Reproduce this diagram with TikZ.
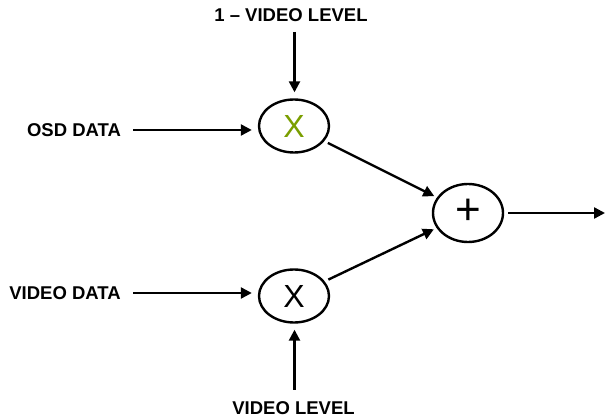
\documentclass[tikz,border=0pt]{standalone}
\usepackage{fontspec}
\setmainfont{Liberation Sans}
\usetikzlibrary{shapes.geometric,arrows.meta}
\definecolor{xgreen}{RGB}{122,158,0}
\begin{document}
\begin{tikzpicture}[x=1pt,y=-1pt,
  lab/.style={font=\fontsize{18.5}{20}\selectfont\bfseries, inner sep=0pt},
  op/.style={ellipse, draw, line width=2.4pt, minimum width=70pt, minimum height=53pt, inner sep=0pt},
  arr/.style={line width=2.4pt, -{Triangle[length=11pt,width=11pt]}},
  ]
\useasboundingbox (0,0) rectangle (605,419);
% labels
\node[lab] (top) at (291,15) {1 -- VIDEO LEVEL};
\node[lab] (osd) at (74,130) {OSD DATA};
\node[lab] (vid) at (65,293) {VIDEO DATA};
\node[lab] (bot) at (293.5,408) {VIDEO LEVEL};
% operators
\node[op] (m1) at (294,126) {\textcolor{xgreen}{\fontsize{32}{32}\selectfont X}};
\node[op] (m2) at (294,296) {\fontsize{32}{32}\selectfont X};
\node[op, minimum height=58pt] (sum) at (468,213) {\raisebox{2pt}{\fontsize{44}{44}\selectfont +}};
% arrow tails
\coordinate (t1) at (294.5,32);
\coordinate (t2) at (133,130);
\coordinate (t3) at (133,293);
\coordinate (t4) at (294.5,390);
\coordinate (out) at (605,213);
\draw[arr, shorten >=6pt] (t1) -- (t1 |- m1.north);
\draw[arr, shorten >=6pt] (t2) -- (t2 -| m1.west);
\draw[arr, shorten >=6pt] (t3) -- (t3 -| m2.west);
\draw[arr, shorten >=6pt] (t4) -- (t4 |- m2.south);
\draw[arr, shorten <=4pt, shorten >=3pt] (m1) -- (sum);
\draw[arr, shorten <=4pt, shorten >=3pt] (m2) -- (sum);
\draw[arr, shorten <=4pt] (sum) -- (out);
\end{tikzpicture}
\end{document}
